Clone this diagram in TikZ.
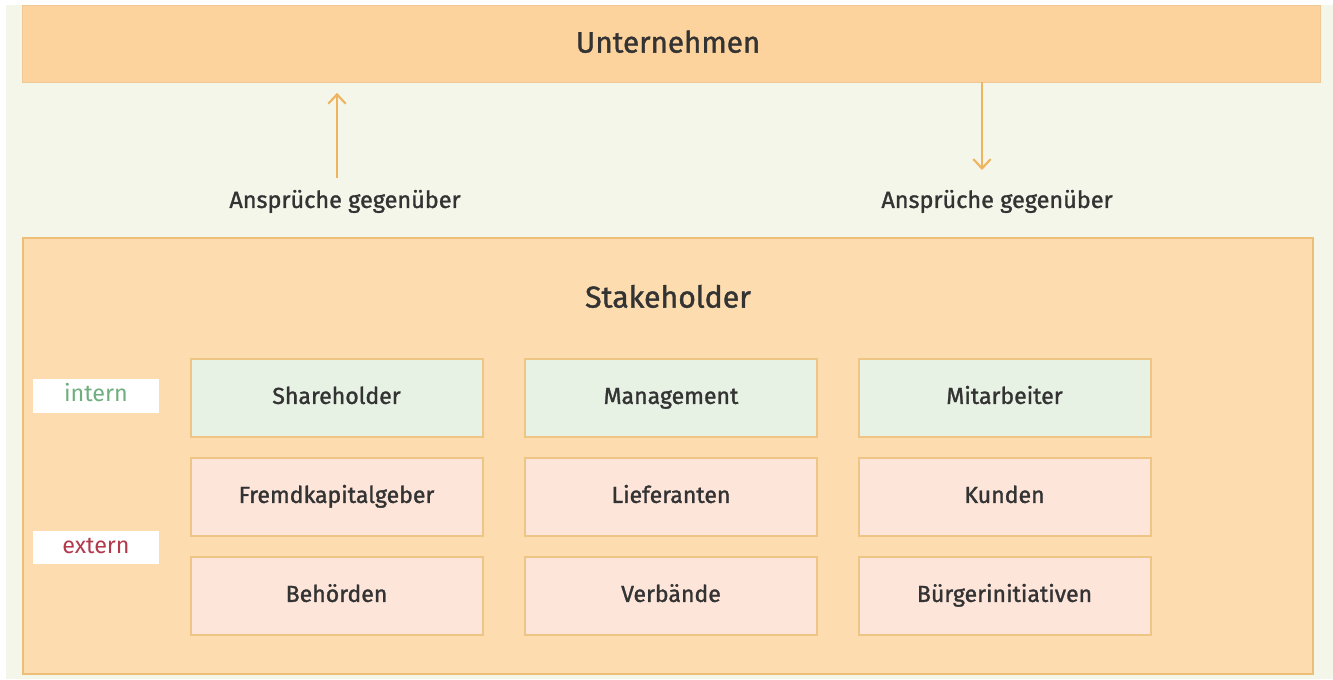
\documentclass[tikz,border=0pt]{standalone}
\usepackage{fontspec}
\setmainfont{Fira Sans}
\newfontfamily\medf{Fira Sans}[FakeBold=1.3]
\usetikzlibrary{arrows.meta}
\definecolor{bgc}{HTML}{F5F6EA}
\definecolor{orfill}{HTML}{FDD39D}
\definecolor{shfill}{HTML}{FDDDB0}
\definecolor{shedge}{HTML}{EDBE78}
\definecolor{greenfill}{HTML}{E7F1E4}
\definecolor{pinkfill}{HTML}{FDE5DA}
\definecolor{boxedge}{HTML}{EFC585}
\definecolor{arrowc}{HTML}{EFB45E}
\definecolor{txt}{HTML}{333333}
\definecolor{interngreen}{HTML}{6FAE7E}
\definecolor{externred}{HTML}{B23A4C}
\tikzset{
  cell/.style={draw=boxedge, line width=1.5pt, minimum width=219pt, minimum height=58pt, inner sep=0pt, text=txt, font=\medf\fontsize{17.3}{20}\selectfont, text height=12.4pt, text depth=3.6pt},
  incell/.style={cell, fill=greenfill},
  excell/.style={cell, fill=pinkfill},
  tag/.style={fill=white, minimum width=94pt, minimum height=25pt, inner sep=0pt, font=\fontsize{17.5}{20}\selectfont, text height=12.4pt, text depth=3.6pt},
  claim/.style={text=txt, font=\medf\fontsize{17.6}{20}\selectfont, inner sep=0pt, text height=12.6pt, text depth=3.7pt},
  title/.style={text=txt, inner sep=0pt, text height=16pt, text depth=4.6pt},
  flow/.style={draw=arrowc, line width=1.6pt, -{Straight Barb[length=7pt,width=13pt]}}
}
\begin{document}
\begin{tikzpicture}[x=0.75pt,y=-0.75pt]
\useasboundingbox (0,0) rectangle (1333,679);
\fill[white] (0,0) rectangle (1333,679);
\fill[bgc] (6,5) rectangle (1333,679);
% top box
\node[fill=orfill, draw=orfill!95!black, line width=0.6pt, minimum width=973.5pt, minimum height=57.75pt, inner sep=0pt, anchor=north west] (U) at (22,5) {};
\node[title, font=\medf\fontsize{22.2}{24}\selectfont] (Ut) at (668,45) {Unternehmen};
% stakeholder box
\node[fill=shfill, draw=shedge, line width=1.5pt, minimum width=967.5pt, minimum height=327pt, inner sep=0pt, anchor=north west] (S) at (22,237) {};
\node[title, font=\medf\fontsize{22.7}{24}\selectfont] (St) at (668,300) {Stakeholder};
% claims
\node[claim] (a1) at (345,202) {Ansprüche gegenüber};
\node[claim] (a2) at (997,202) {Ansprüche gegenüber};
\coordinate (a1s) at (337,178);
\coordinate (a2s) at (982,82);
\coordinate (a2e) at (982,170);
\draw[flow] (a1s) -- (a1s |- U.south) [shorten >=7.5pt];
\draw[flow] (a2s) -- (a2e);
% tags
\node[tag, text=interngreen] (in) at (96,396) {intern};
\node[tag, text=externred] (ex) at (96,547.5) {extern};
% cells
\node[incell] (c11) at (336.5,398) {Shareholder};
\node[incell] (c12) at (671,398) {Management};
\node[incell] (c13) at (1004.5,398) {Mitarbeiter};
\node[excell] (c21) at (336.5,497) {Fremdkapitalgeber};
\node[excell] (c22) at (671,497) {Lieferanten};
\node[excell] (c23) at (1004.5,497) {Kunden};
\node[excell] (c31) at (336.5,596) {Behörden};
\node[excell] (c32) at (671,596) {Verbände};
\node[excell] (c33) at (1004.5,596) {Bürgerinitiativen};
\end{tikzpicture}
\end{document}
